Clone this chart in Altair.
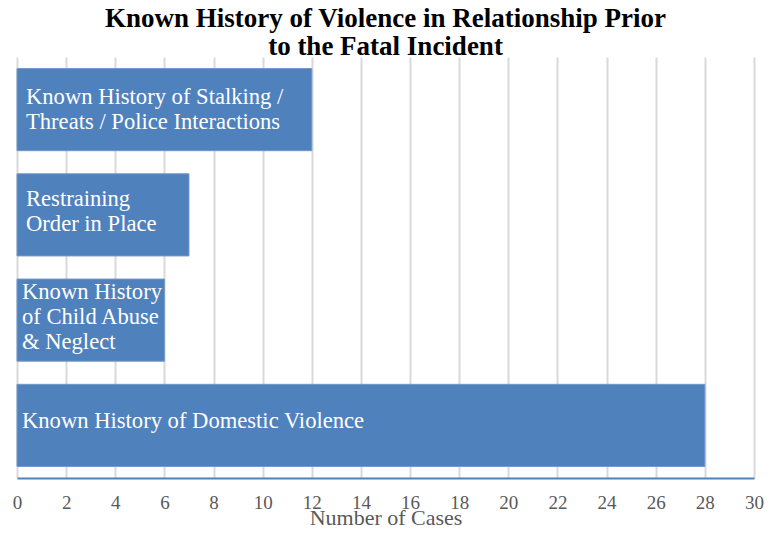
import altair as alt
import pandas as pd

categories = [
    "Known History of Stalking / Threats / Police Interactions",
    "Restraining Order in Place",
    "Known History of Child Abuse & Neglect",
    "Known History of Domestic Violence",
]
labels = [
    "Known History of Stalking /\nThreats / Police Interactions",
    "Restraining\nOrder in Place",
    "Known History\nof Child Abuse\n& Neglect",
    "Known History of Domestic Violence",
]
values = [12, 7, 6, 28]

df = pd.DataFrame({"category": categories, "label": labels, "value": values})

SERIF = "Liberation Serif"
BLUE = "#4F81BD"
LINE_H = 25

y_enc = alt.Y(
    "category:N",
    sort=categories,
    axis=None,
    scale=alt.Scale(paddingInner=0.22, paddingOuter=0.11),
)

bars = alt.Chart(df).mark_bar(color=BLUE, stroke="#6F97CA", strokeWidth=1).encode(
    x=alt.X(
        "value:Q",
        scale=alt.Scale(domain=[0, 30], nice=False),
        axis=alt.Axis(
            values=list(range(0, 31, 2)),
            title="Number of Cases",
            titleFont=SERIF,
            titleFontSize=22,
            titleFontWeight="normal",
            titleColor="#595959",
            titleBaseline="alphabetic",
            titleY=46,
            labelFont=SERIF,
            labelFontSize=19,
            labelColor="#595959",
            labelBaseline="alphabetic",
            labelPadding=30,
            labelFlush=False,
            ticks=False,
            domainColor=BLUE,
            domainWidth=2,
            grid=True,
            gridColor="#D9D9D9",
            gridWidth=2,
        ),
    ),
    y=y_enc,
)


def label_layer(cats, dx, dy):
    return (
        alt.Chart(df)
        .transform_filter(alt.FieldOneOfPredicate(field="category", oneOf=cats))
        .mark_text(
            align="left",
            baseline="middle",
            font=SERIF,
            fontSize=22.6,
            color="white",
            lineBreak="\n",
            lineHeight=LINE_H,
            dx=dx,
            dy=dy,
        )
        .encode(
            x=alt.value(0),
            y=alt.Y("category:N", sort=categories, axis=None),
            text="label:N",
        )
    )


texts_a = label_layer([categories[0]], 9, -13)
texts_b = label_layer([categories[1]], 9, -16)
texts_c = label_layer([categories[2]], 5, -28)
texts_d = label_layer([categories[3]], 5, -4)

chart = (
    alt.layer(bars, texts_a, texts_b, texts_c, texts_d)
    .properties(
        width=737,
        height=421,
        autosize=alt.AutoSizeParams(type="none"),
        padding={"left": 9, "top": 49, "right": 15, "bottom": 49},
        title=alt.TitleParams(
            text=["Known History of Violence in Relationship Prior", "to the Fatal Incident"],
            font=SERIF,
            fontSize=27,
            fontWeight="bold",
            color="black",
            anchor="middle",
            offset=-4,
            lineHeight=28,
        ),
    )
    .configure_view(stroke=None)
)

chart.save("out.html", embed_options={"renderer": "svg", "actions": False})
